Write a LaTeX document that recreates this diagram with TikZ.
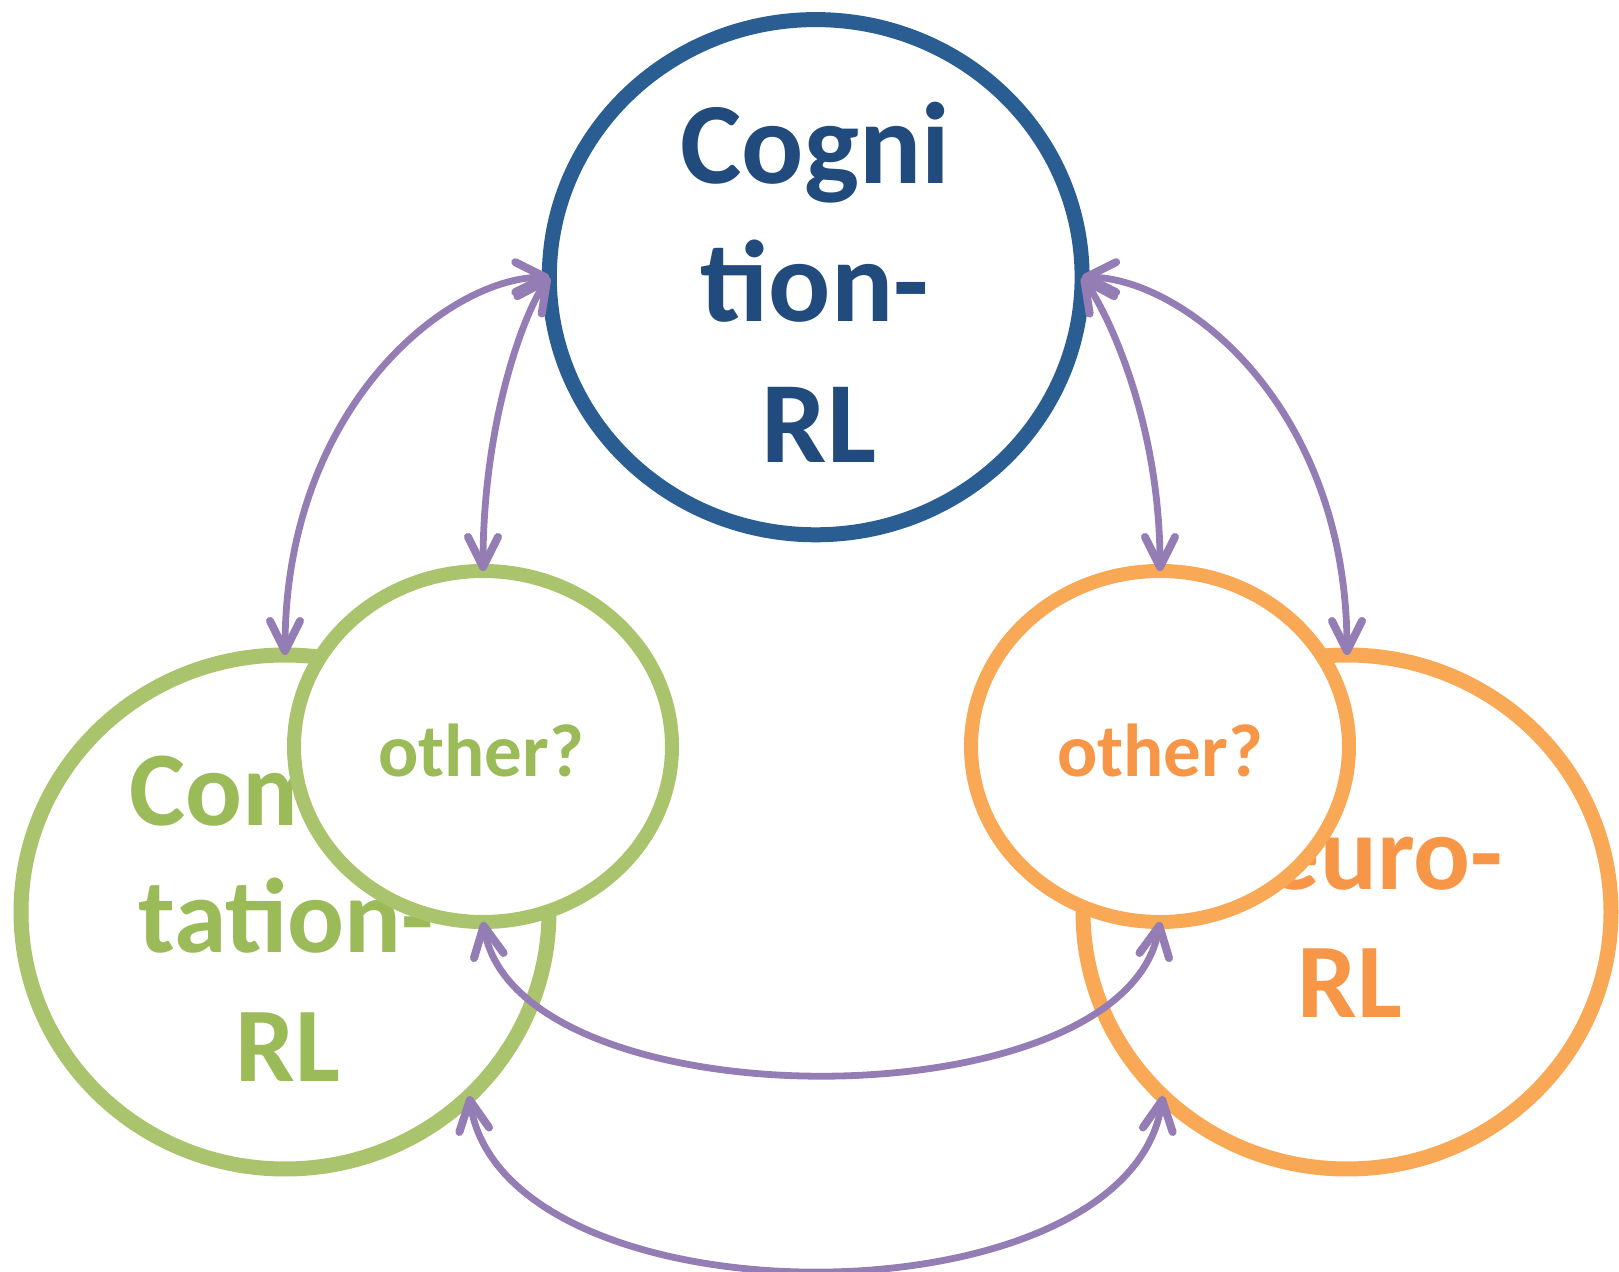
\documentclass[tikz,border=0pt]{standalone}
\usepackage{fontspec}
\setmainfont{Carlito}
\usetikzlibrary{shapes.geometric,arrows.meta}

\definecolor{cogLine}{HTML}{2A5E92}
\definecolor{cogText}{HTML}{214A7D}
\definecolor{compLine}{HTML}{A9C46C}
\definecolor{compText}{HTML}{9BBB59}
\definecolor{neuroLine}{HTML}{F9A856}
\definecolor{neuroText}{HTML}{F79646}
\definecolor{linkC}{HTML}{947CB4}

\tikzset{
  ring/.style={ellipse, inner sep=0pt, outer sep=0pt},
  bigring/.style={ring, fill=white, line width=7.5pt, minimum width=264pt, minimum height=257pt},
  smallring/.style={ring, fill=white, line width=7pt, minimum width=189pt, minimum height=175.5pt},
  lbl/.style={anchor=base, inner sep=0pt, outer sep=0pt},
  hugetxt/.style={lbl, font=\fontsize{58}{58}\selectfont\bfseries},
  largetxt/.style={lbl, font=\fontsize{53}{53}\selectfont\bfseries},
  smalltxt/.style={lbl, font=\fontsize{37.5}{37.5}\selectfont\bfseries},
  barb/.tip={Straight Barb[length=15pt, width=15pt, line width=4pt, round]},
  link/.style={draw=linkC, line width=3.4pt, arrows={barb-barb}},
}

\begin{document}
\begin{tikzpicture}[x=0.5pt, y=0.5pt]
  \useasboundingbox (0,0) rectangle (1619,-1272);

  % top circle
  \node[bigring, draw=cogLine, minimum width=266.4pt, minimum height=257.6pt] (cog) at (815.7,-277.2) {};
  \node[hugetxt, text=cogText] (cogA) at (815,-184) {Cogni};
  \node[hugetxt, text=cogText] (cogB) at (815,-322) {tion-};
  \node[hugetxt, text=cogText] (cogC) at (819,-462.7) {RL};

  % lower left circle
  \node[bigring, draw=compLine] (comp) at (285,-912) {};
  \node[largetxt, text=compText] (compA) at (286,-826) {Compu};
  \node[largetxt, text=compText] (compB) at (286,-953) {tation-};
  \node[largetxt, text=compText] (compC) at (288,-1081.7) {RL};

  % lower right circle
  \node[bigring, draw=neuroLine] (neuro) at (1347,-912) {};
  \node[largetxt, text=neuroText] (neuroA) at (1350,-890) {Neuro-};
  \node[largetxt, text=neuroText] (neuroB) at (1350,-1018) {RL};

  % overlapping smaller circles
  \node[smallring, draw=compLine] (othL) at (483,-746.5) {};
  \node[smalltxt, text=compText] (othLt) at (481,-777) {other?};
  \node[smallring, draw=neuroLine] (othR) at (1160,-746.5) {};
  \node[smalltxt, text=neuroText] (othRt) at (1160,-777) {other?};

  % two-way links
  \draw[link] (cog.west) .. controls +(-100,0) and +(0,250) .. (comp.north);
  \draw[link] (cog.west) .. controls +(-25,-35) and +(0,150) .. (othL.north);
  \draw[link] (cog.east) .. controls +(25,-35) and +(0,150) .. (othR.north);
  \draw[link] (cog.east) .. controls +(100,0) and +(0,250) .. (neuro.north);
  \draw[link] (othL.south) .. controls +(35,-203) and +(-35,-203) .. (othR.south);
  \draw[link] (comp.-45) .. controls +(35,-232) and +(-35,-232) .. (neuro.-135);
\end{tikzpicture}
\end{document}
